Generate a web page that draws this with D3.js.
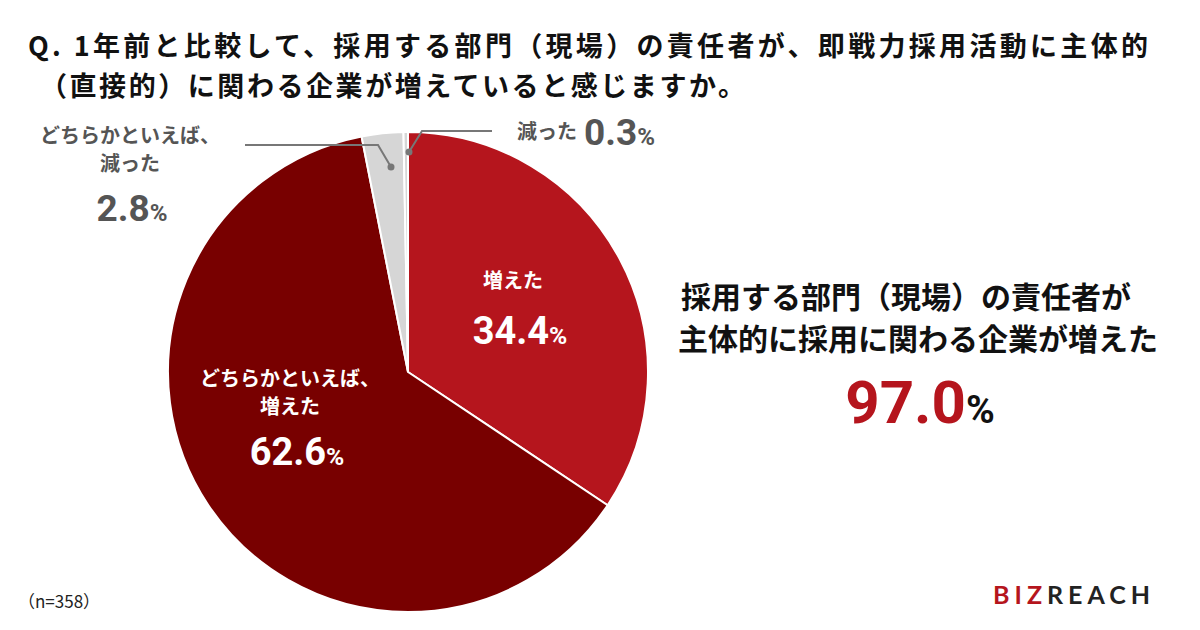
<!DOCTYPE html>
<html lang="ja">
<head>
<meta charset="UTF-8">
<script src="https://d3js.org/d3.v7.min.js"></script>
<style>
body{margin:0;background:#fff;font-family:"Noto Sans CJK JP","Noto Sans",sans-serif;}
</style>
</head>
<body>
<svg id="chart" width="1200" height="630"></svg>
<script>
var labels = ["増えた", "どちらかといえば、増えた", "どちらかといえば、減った", "減った"];
var values = [34.4, 62.6, 2.8, 0.3];
var colors = ["#b5151d", "#780000", "#d6d6d6", "#d6d6d6"];

var svg = d3.select("#chart");
var cx = 408, cy = 372, r = 240;

svg.append("text").attr("x", 28).attr("y", 56).attr("font-size", 27).attr("font-weight", 700).attr("fill", "#111")
  .attr("textLength", 1120).attr("lengthAdjust", "spacing")
  .text("Q. 1年前と比較して、採用する部門（現場）の責任者が、即戦力採用活動に主体的");
svg.append("text").attr("x", 40).attr("y", 96).attr("font-size", 27).attr("font-weight", 700).attr("fill", "#111")
  .attr("textLength", 705).attr("lengthAdjust", "spacing")
  .text("（直接的）に関わる企業が増えていると感じますか。");

var pie = d3.pie().sort(null).value(d => d);
var arc = d3.arc().innerRadius(0).outerRadius(r);
var arcs = pie(values);

var g = svg.append("g").attr("transform", `translate(${cx},${cy})`);
g.selectAll("path").data(arcs).join("path")
  .attr("d", arc).attr("fill", (d, i) => colors[i])
  .attr("stroke", "#fff").attr("stroke-width", 2);

function txt(x, y, s, size, fill, anchor) {
  return svg.append("text").attr("x", x).attr("y", y).attr("font-size", size)
    .attr("font-weight", 700).attr("fill", fill).attr("text-anchor", anchor || "middle").text(s);
}
function pct(x, y, v, size, fill, anchor, pfill) {
  var t = svg.append("text").attr("x", x).attr("y", y).attr("font-weight", 700)
    .attr("fill", fill).attr("text-anchor", anchor || "middle").attr("font-family", "Roboto, sans-serif");
  t.append("tspan").attr("font-size", size).text(v.toFixed(1));
  t.append("tspan").attr("font-size", size * 0.65).attr("fill", pfill || fill).text("%");
  return t;
}

// inside labels
txt(513, 288, labels[0], 20, "#fff");
pct(520, 344, values[0], 38, "#fff");
txt(290, 386, "どちらかといえば、", 20, "#fff");
txt(290, 414, "増えた", 20, "#fff");
pct(297, 465, values[1], 38, "#fff");

// leader lines
var lg = svg.append("g").attr("stroke", "#777").attr("stroke-width", 2).attr("fill", "none");
lg.append("polyline").attr("points", "409,152 422,131 492,131");
lg.append("polyline").attr("points", "391,167 378,145 245,145");
svg.append("circle").attr("cx", 409).attr("cy", 152).attr("r", 3.5).attr("fill", "#777");
svg.append("circle").attr("cx", 391).attr("cy", 167).attr("r", 3.5).attr("fill", "#777");

txt(577, 139, labels[3], 20, "#555", "end");
pct(584, 145, values[3], 37, "#555", "start");
txt(130, 143, "どちらかといえば、", 20, "#555");
txt(130, 171, "減った", 20, "#555");
pct(132, 221, values[2], 37, "#555");

// summary
txt(906, 308, "採用する部門（現場）の責任者が", 30, "#111");
txt(918, 350, "主体的に採用に関わる企業が増えた", 30, "#111");
pct(920, 423, values[0] + values[1], 60, "#b5151d", "middle", "#111");

svg.append("text").attr("x", 18).attr("y", 608).attr("font-size", 17).attr("fill", "#222").text("（n=358）");
var logo = svg.append("text").attr("x", 993).attr("y", 604).attr("font-size", 25).attr("font-weight", 700)
  .attr("font-family", "Lato, sans-serif").attr("letter-spacing", 5);
logo.append("tspan").attr("fill", "#b5151d").text("BIZ");
logo.append("tspan").attr("fill", "#222").text("REACH");
</script>
</body>
</html>
